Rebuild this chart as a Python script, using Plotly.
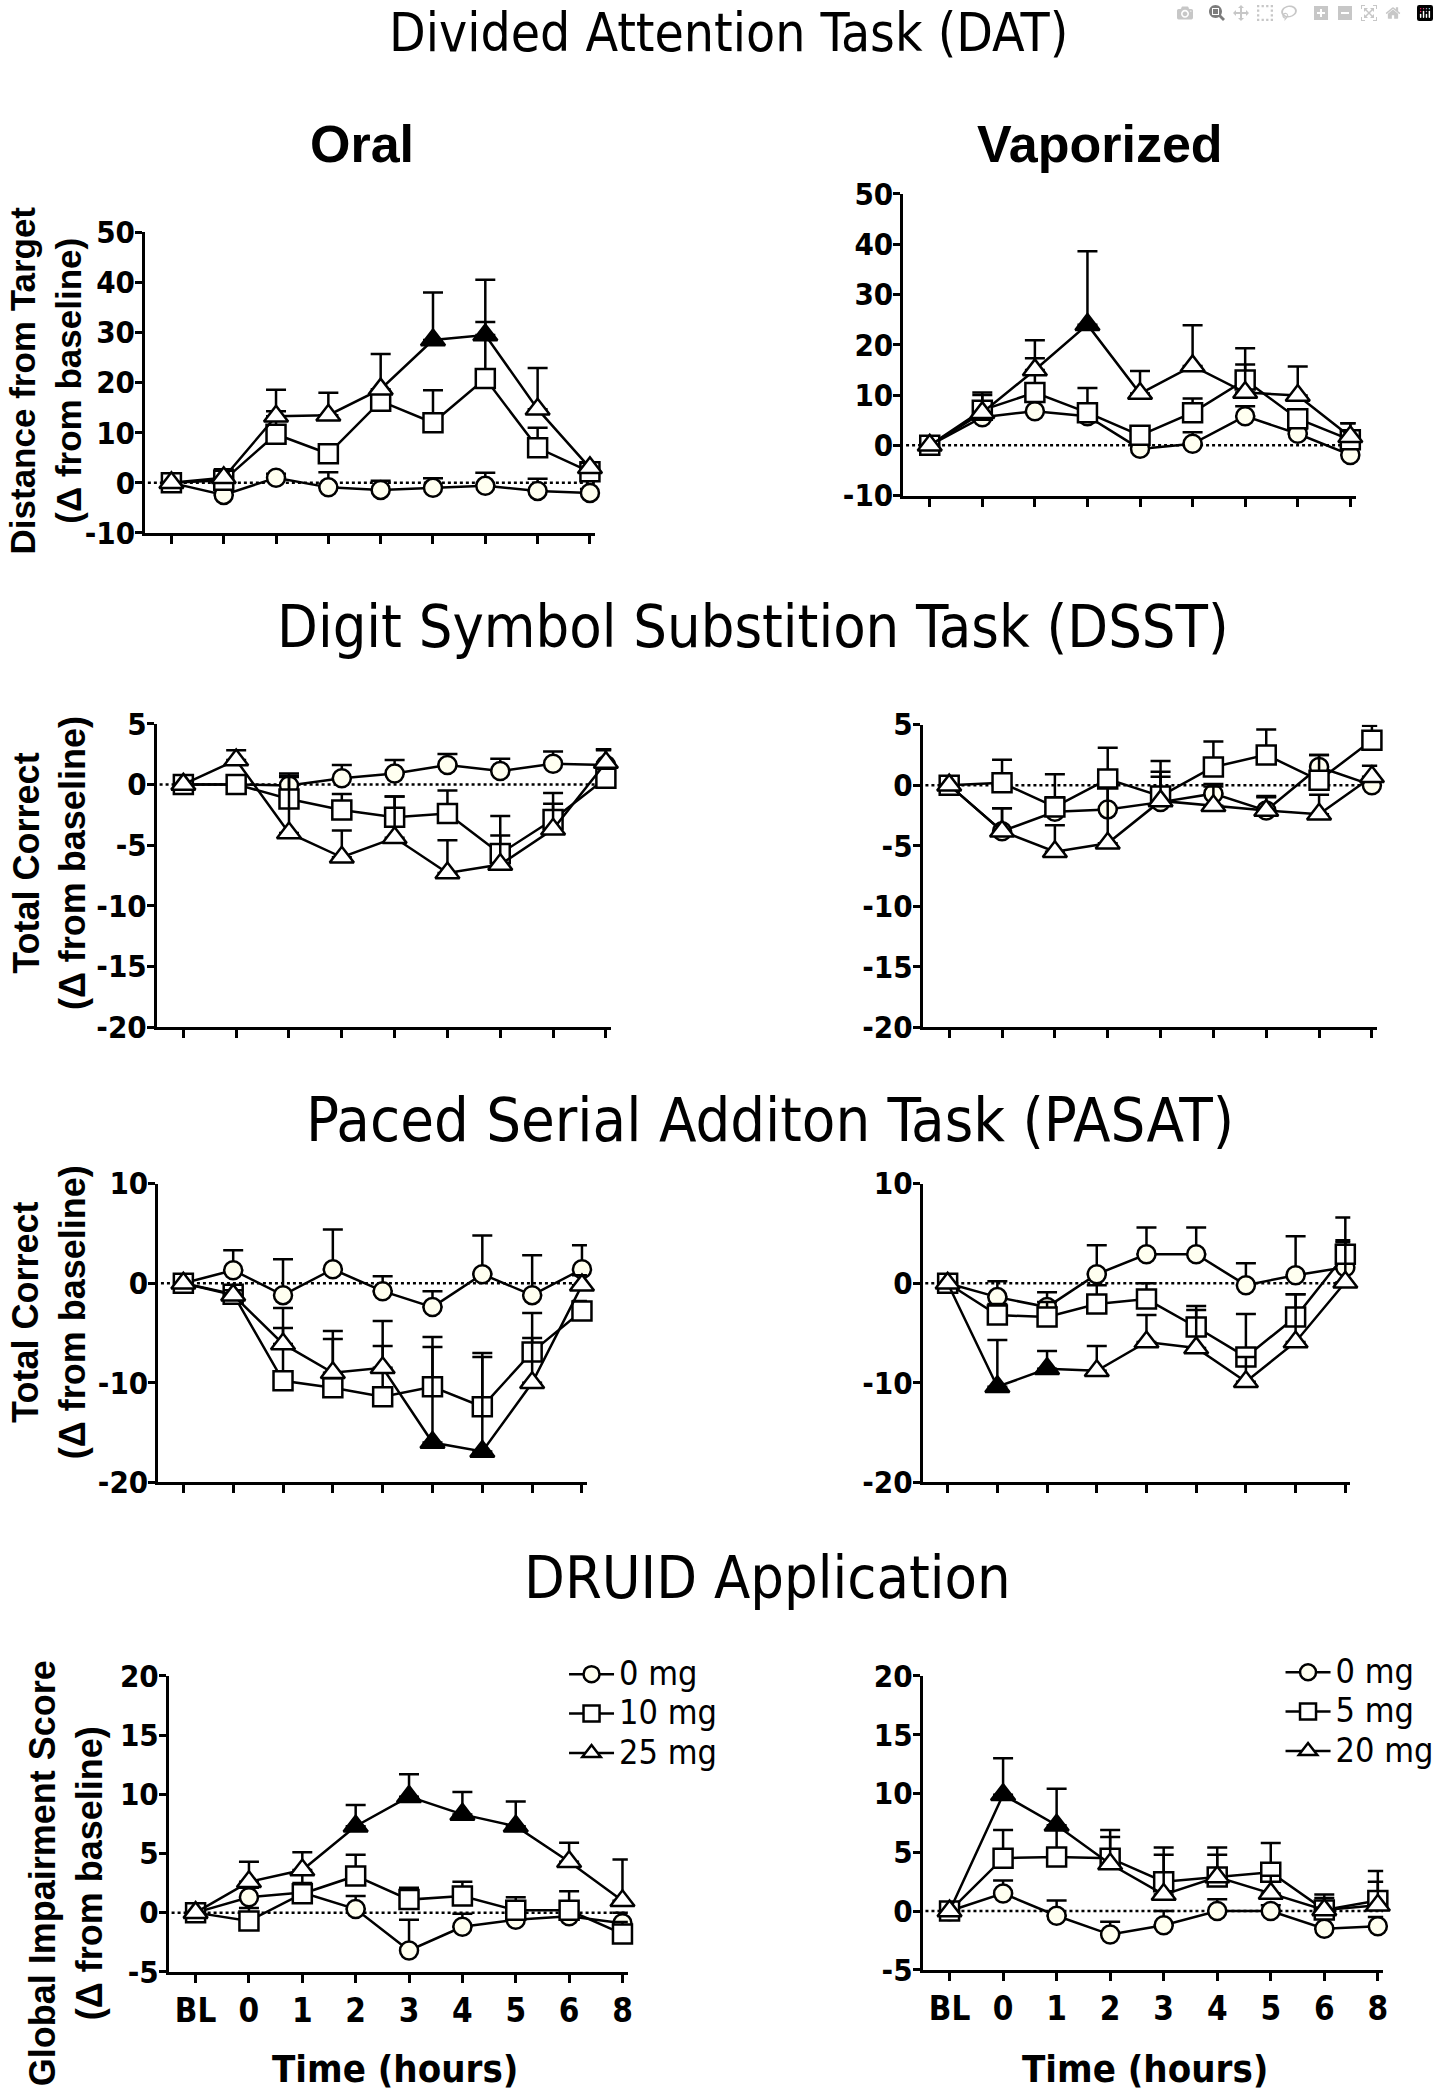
import plotly.graph_objects as go

W, H = 1439, 2092

# ---------------- data ----------------
x_labels = ["BL", "0", "1", "2", "3", "4", "5", "6", "8"]
x_pos = list(range(9))

oral_doses = ["0 mg", "10 mg", "25 mg"]
vap_doses = ["0 mg", "5 mg", "20 mg"]

# Divided Attention Task (DAT)
dat_oral_0 = [0, -2.4, 1.0, -0.9, -1.4, -1.0, -0.6, -1.6, -2.0]
dat_oral_0_err = [0, 1.0, 0.8, 3.0, 1.8, 1.9, 2.6, 2.4, 0.8]
dat_oral_10 = [0, 0.5, 9.7, 5.8, 16.3, 12.0, 20.8, 7.0, 2.2]
dat_oral_10_err = [0, 2.2, 4.6, 1.3, 2.0, 6.5, 11.3, 4.0, 1.6]
dat_oral_25 = [0, 1.0, 13.3, 13.5, 18.7, 28.5, 29.5, 14.7, 3.0]
dat_oral_25_err = [0, 1.5, 5.3, 4.5, 7.0, 9.5, 11.0, 8.2, 1.0]
dat_oral_sig = [5, 6]

dat_vap_0 = [0, 5.6, 6.8, 5.8, -0.7, 0.3, 5.8, 2.3, -1.9]
dat_vap_0_err = [0, 2.5, 2.0, 1.5, 0.8, 2.3, 2.0, 1.0, 1.0]
dat_vap_5 = [0, 7.0, 10.5, 6.5, 2.0, 6.5, 13.0, 5.3, 1.1]
dat_vap_5_err = [0, 3.5, 6.8, 4.9, 1.6, 2.8, 3.1, 1.5, 3.3]
dat_vap_20 = [0, 6.5, 15.0, 24.0, 10.3, 15.8, 10.5, 9.9, 1.7]
dat_vap_20_err = [0, 3.5, 5.9, 14.6, 4.5, 8.1, 8.8, 5.8, 2.7]
dat_vap_sig = [3]

# Digit Symbol Substitution Task (DSST)
dsst_oral_0 = [0, 0, -0.1, 0.5, 0.9, 1.6, 1.1, 1.7, 1.6]
dsst_oral_0_err = [0, 0.3, 1.0, 1.1, 1.1, 0.9, 1.0, 1.0, 1.3]
dsst_oral_10 = [0, 0, -1.2, -2.1, -2.7, -2.4, -5.7, -2.9, 0.5]
dsst_oral_10_err = [0, 0.3, 1.9, 1.3, 1.7, 1.9, 1.5, 1.3, 2.3]
dsst_oral_25 = [0, 2.0, -4.0, -6.0, -4.4, -7.3, -6.6, -3.7, 1.8]
dsst_oral_25_err = [0, 0.8, 4.6, 2.2, 3.4, 2.7, 4.0, 3.0, 1.1]
dsst_oral_sig = []

dsst_vap_0 = [0, -3.8, -2.2, -2.0, -1.4, -0.7, -2.1, 1.5, 0]
dsst_vap_0_err = [0, 1.9, 1.2, 2.0, 2.5, 0.8, 1.2, 1.0, 0.5]
dsst_vap_5 = [0, 0.2, -1.8, 0.5, -0.9, 1.5, 2.5, 0.4, 3.7]
dsst_vap_5_err = [0, 1.9, 2.7, 2.6, 2.9, 2.1, 2.1, 2.1, 1.2]
dsst_vap_20 = [0, -3.8, -5.5, -4.8, -1.3, -1.7, -2.1, -2.4, 0.7]
dsst_vap_20_err = [0, 1.9, 2.2, 4.6, 2.0, 1.6, 1.1, 1.6, 0.9]
dsst_vap_sig = []

# Paced Serial Addition Task (PASAT)
pasat_oral_0 = [0, 1.3, -1.2, 1.4, -0.8, -2.4, 0.9, -1.2, 1.4]
pasat_oral_0_err = [0, 2.0, 3.6, 4.0, 1.5, 1.6, 3.9, 4.0, 2.4]
pasat_oral_10 = [0, -1.1, -9.8, -10.5, -11.4, -10.4, -12.4, -6.9, -2.8]
pasat_oral_10_err = [0, 0.5, 5.3, 5.7, 5.1, 4.0, 5.0, 3.9, 1.0]
pasat_oral_25 = [0, -1.2, -6.1, -9.0, -8.5, -16.0, -16.9, -10.0, -0.2]
pasat_oral_25_err = [0, 0.5, 3.6, 3.4, 4.7, 10.6, 9.9, 4.5, 1.0]
pasat_oral_sig = [5, 6]

pasat_vap_0 = [0, -1.4, -2.4, 0.9, 2.9, 2.9, -0.2, 0.8, 1.6]
pasat_vap_0_err = [0, 1.6, 1.5, 2.9, 2.7, 2.7, 2.2, 3.9, 5.0]
pasat_vap_5 = [0, -3.2, -3.4, -2.1, -1.6, -4.4, -7.4, -3.4, 2.9]
pasat_vap_5_err = [0, 1.1, 1.5, 1.9, 1.6, 2.1, 4.3, 2.3, 1.4]
pasat_vap_20 = [0, -10.4, -8.6, -8.8, -5.9, -6.5, -9.9, -5.9, 0.1]
pasat_vap_20_err = [0, 4.7, 1.8, 2.5, 2.7, 3.8, 2.5, 4.8, 4.0]
pasat_vap_sig = [1, 2]

# DRUID Application
druid_oral_0 = [0, 1.3, 1.7, 0.3, -3.2, -1.2, -0.6, -0.3, -0.9]
druid_oral_0_err = [0, 0.8, 0.8, 1.1, 2.6, 1.1, 0.6, 0.5, 0.9]
druid_oral_10 = [0, -0.7, 1.6, 3.1, 1.1, 1.4, 0.2, 0.2, -1.8]
druid_oral_10_err = [0, 1.1, 1.7, 1.8, 1.0, 1.2, 1.1, 1.6, 1.0]
druid_oral_25 = [0, 2.6, 3.6, 7.3, 9.8, 8.3, 7.3, 4.3, 1.0]
druid_oral_25_err = [0, 1.7, 1.5, 1.8, 1.9, 1.9, 2.1, 1.6, 3.5]
druid_oral_sig = [3, 4, 5, 6]

druid_vap_0 = [0, 1.5, -0.4, -2.0, -1.2, 0, 0, -1.5, -1.3]
druid_vap_0_err = [0, 1.1, 1.3, 1.1, 1.2, 1.0, 0.5, 0.9, 0.8]
druid_vap_5 = [0, 4.5, 4.6, 4.5, 2.5, 2.9, 3.3, 0.1, 0.9]
druid_vap_5_err = [0, 2.4, 2.4, 1.8, 2.3, 1.9, 2.5, 1.3, 2.5]
druid_vap_20 = [0, 9.9, 7.3, 4.0, 1.4, 2.9, 1.5, 0.1, 0.5]
druid_vap_20_err = [0, 3.1, 3.1, 2.9, 4.0, 2.5, 1.5, 1.0, 2.0]
druid_vap_sig = [1, 2]

dat_ticks = [-10, 0, 10, 20, 30, 40, 50]
dsst_ticks = [-20, -15, -10, -5, 0, 5]
pasat_ticks = [-20, -10, 0, 10]
druid_ticks = [-5, 0, 5, 10, 15, 20]

# ---------------- styling / layout ----------------
NARROW = "Liberation Sans Narrow, Arial Narrow, DejaVu Sans Condensed, sans-serif"
ARIAL = "Liberation Sans, Arial, Helvetica, sans-serif"

panels = [
    dict(series=[(dat_oral_0, dat_oral_0_err), (dat_oral_10, dat_oral_10_err), (dat_oral_25, dat_oral_25_err)],
         sig=dat_oral_sig, ticks=dat_ticks, xd=(145.75, 597.25), yd=(218, 524), bottom=False, names=oral_doses, legend=None),
    dict(series=[(dat_vap_0, dat_vap_0_err), (dat_vap_5, dat_vap_5_err), (dat_vap_20, dat_vap_20_err)],
         sig=dat_vap_sig, ticks=dat_ticks, xd=(906.6, 1360.3), yd=(179, 486), bottom=False, names=vap_doses, legend=None),
    dict(series=[(dsst_oral_0, dsst_oral_0_err), (dsst_oral_10, dsst_oral_10_err), (dsst_oral_25, dsst_oral_25_err)],
         sig=dsst_oral_sig, ticks=dsst_ticks, xd=(157.5, 613.3), yd=(718, 1027), bottom=False, names=oral_doses, legend=None),
    dict(series=[(dsst_vap_0, dsst_vap_0_err), (dsst_vap_5, dsst_vap_5_err), (dsst_vap_20, dsst_vap_20_err)],
         sig=dsst_vap_sig, ticks=dsst_ticks, xd=(926, 1382), yd=(719, 1027), bottom=False, names=vap_doses, legend=None),
    dict(series=[(pasat_oral_0, pasat_oral_0_err), (pasat_oral_10, pasat_oral_10_err), (pasat_oral_25, pasat_oral_25_err)],
         sig=pasat_oral_sig, ticks=pasat_ticks, xd=(159, 589), yd=(1186, 1490), bottom=False, names=oral_doses, legend=None),
    dict(series=[(pasat_vap_0, pasat_vap_0_err), (pasat_vap_5, pasat_vap_5_err), (pasat_vap_20, pasat_vap_20_err)],
         sig=pasat_vap_sig, ticks=pasat_ticks, xd=(926, 1355), yd=(1186, 1490), bottom=False, names=vap_doses, legend=None),
    dict(series=[(druid_oral_0, druid_oral_0_err), (druid_oral_10, druid_oral_10_err), (druid_oral_25, druid_oral_25_err)],
         sig=druid_oral_sig, ticks=druid_ticks, xd=(169.5, 630), yd=(1687, 1988), bottom=True, names=oral_doses, legend="legend"),
    dict(series=[(druid_vap_0, druid_vap_0_err), (druid_vap_5, druid_vap_5_err), (druid_vap_20, druid_vap_20_err)],
         sig=druid_vap_sig, ticks=druid_ticks, xd=(926, 1388), yd=(1687, 1986), bottom=True, names=vap_doses, legend="legend2"),
]

symbols = ["circle", "square", "triangle-up"]
sizes = [18, 19, 21]
base_fill = ["#FFFFF0", "white", "white"]

fig = go.Figure()
layout = dict(width=W, height=H, margin=dict(l=0, r=0, t=0, b=0),
              paper_bgcolor="white", plot_bgcolor="white", shapes=[], annotations=[])

for n, p in enumerate(panels, start=1):
    sfx = "" if n == 1 else str(n)
    xref, yref = "x" + sfx, "y" + sfx
    for k, (vals, errs) in enumerate(p["series"]):
        if k == 2:
            fill = ["black" if j in p["sig"] else "white" for j in x_pos]
        else:
            fill = base_fill[k]
        tr = dict(
            x=x_pos, y=vals, xaxis=xref, yaxis=yref, mode="lines+markers",
            name='<span style="font-size:34px">' + p["names"][k] + "</span>",
            line=dict(color="black", width=2.5),
            marker=dict(symbol=symbols[k], size=sizes[k], color=fill,
                        line=dict(color="black", width=2.5)),
            error_y=dict(type="data", symmetric=False, array=errs, arrayminus=[0] * len(errs),
                         color="black", thickness=2.5, width=10),
            showlegend=p["legend"] is not None,
            cliponaxis=False,
        )
        if p["legend"]:
            tr["legend"] = p["legend"]
        fig.add_trace(go.Scatter(**tr))

    layout["xaxis" + sfx] = dict(
        domain=[p["xd"][0] / W, p["xd"][1] / W], range=[-0.5, 8.1], anchor=yref,
        tickmode="array", tickvals=x_pos, ticktext=x_labels, showticklabels=p["bottom"],
        ticks="outside", ticklen=8, tickwidth=3, tickcolor="black",
        showline=True, linecolor="black", linewidth=3, showgrid=False, zeroline=False,
        tickfont=dict(family=NARROW, size=33, color="black", weight="bold"),
    )
    layout["yaxis" + sfx] = dict(
        domain=[1 - p["yd"][1] / H, 1 - p["yd"][0] / H],
        range=[min(p["ticks"]), max(p["ticks"])], anchor=xref,
        tickmode="array", tickvals=p["ticks"], ticktext=[str(v) for v in p["ticks"]],
        ticks="outside", ticklen=7, tickwidth=3, ticklabelstandoff=-6,
        tickcolor="black", showline=True, linecolor="black", linewidth=3,
        showgrid=False, zeroline=False,
        tickfont=dict(family=NARROW, size=31, color="black", weight="bold"),
    )
    layout["shapes"].append(dict(type="line", xref=xref, yref=yref, x0=-0.45, x1=8.1, y0=0, y1=0,
                                 line=dict(color="black", width=2.5, dash="dot"), layer="below"))

def ann(text, x, y, size, family, weight="normal", angle=0):
    layout["annotations"].append(dict(
        text=text, x=x / W, y=1 - y / H, xref="paper", yref="paper",
        xanchor="center", yanchor="middle", showarrow=False, textangle=angle,
        font=dict(family=family, size=size, color="black", weight=weight)))

ann("Divided Attention Task (DAT)", 731, 15, 53, NARROW)
ann("Oral", 363, 128, 52, ARIAL, "bold")
ann("Vaporized", 1104, 128, 52, ARIAL, "bold")
ann("Digit Symbol Substition Task (DSST)", 756, 619, 59, NARROW)
ann("Paced Serial Additon Task (PASAT)", 773, 1121, 61, NARROW)
ann("DRUID Application", 770, 1587, 59, NARROW)

ann("Distance from Target<br>(Δ from baseline)", 46, 369, 35, ARIAL, "bold", -90)
ann("Total Correct<br>(Δ from baseline)", 50, 860, 36, ARIAL, "bold", -90)
ann("Total Correct<br>(Δ from baseline)", 50, 1317, 36, ARIAL, "bold", -90)
ann("Global Impairment Score<br>(Δ from baseline)", 66, 1888, 36, ARIAL, "bold", -90)

ann("Time (hours)", 396, 2087, 38, NARROW, "bold")
ann("Time (hours)", 1149, 2087, 38, NARROW, "bold")

legend_style = dict(font=dict(family=NARROW, size=28, color="black"), bgcolor="rgba(0,0,0,0)",
                    borderwidth=0, xanchor="left", yanchor="top", tracegroupgap=0, itemwidth=45)
layout["legend"] = dict(x=566 / W, y=1 - 1660 / H, **legend_style)
layout["legend2"] = dict(x=1285 / W, y=1 - 1658 / H, **legend_style)

fig.update_layout(**layout)

fig.write_html("out.html", post_script="document.body.style.margin='0';")
